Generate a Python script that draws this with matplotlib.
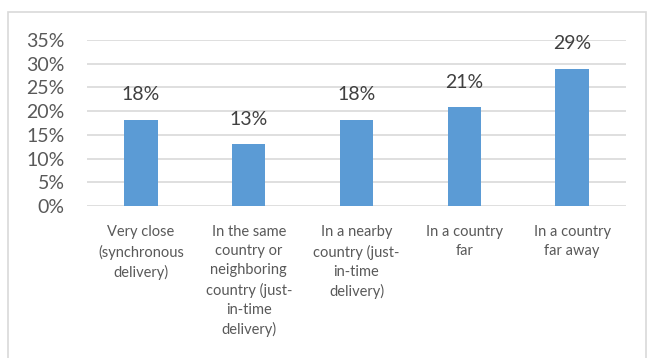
import matplotlib
matplotlib.use("Agg")
import matplotlib.pyplot as plt
from matplotlib.patches import Rectangle
from matplotlib.ticker import FuncFormatter, MultipleLocator

categories = [
    "Very close\n(synchronous\ndelivery)",
    "In the same\ncountry or\nneighboring\ncountry (just-\nin-time\ndelivery)",
    "In a nearby\ncountry (just-\nin-time\ndelivery)",
    "In a country\nfar",
    "In a country\nfar away",
]
values = [0.181, 0.130, 0.181, 0.208, 0.289]
value_labels = ["18%", "13%", "18%", "21%", "29%"]

plt.rcParams['font.family'] = ['Lato', 'DejaVu Sans']
text_color = "#595959"

fig = plt.figure(figsize=(6.47, 3.58), dpi=100)
fig.patches.append(Rectangle((8/647, -0.05), (646-8)/647, 1.05 - 12/358 + 0.0,
                             transform=fig.transFigure, fill=False,
                             edgecolor="#D9D9D9", linewidth=1.2))
ax = fig.add_axes([87/647, 1-206/358, (626-87)/647, (206-40)/358])

x = range(len(categories))
ax.bar(x, values, width=0.31, color="#5B9BD5", zorder=3)
ax.set_xlim(-0.5, len(categories)-0.5)
ax.set_ylim(0, 0.35)
ax.yaxis.set_major_locator(MultipleLocator(0.05))
ax.yaxis.set_major_formatter(FuncFormatter(lambda v, p: f"{v*100:.0f}%"))
ax.grid(axis="y", color="#D9D9D9", linewidth=1.2, zorder=0)
for s in ax.spines.values():
    s.set_visible(False)
ax.tick_params(axis="y", length=0, pad=16, labelsize=14, colors=text_color)
ax.tick_params(axis="x", length=0, pad=14)
ax.set_xticks(list(x))
ax.set_xticklabels(categories, fontsize=10.5, color=text_color, linespacing=1.45, va="top")

for xi, v, lab in zip(x, values, value_labels):
    ax.annotate(lab, (xi, v), xytext=(0, 12), textcoords="offset points",
                ha="center", va="bottom", fontsize=14, color="#404040")

fig.savefig("out.png", dpi=100)
